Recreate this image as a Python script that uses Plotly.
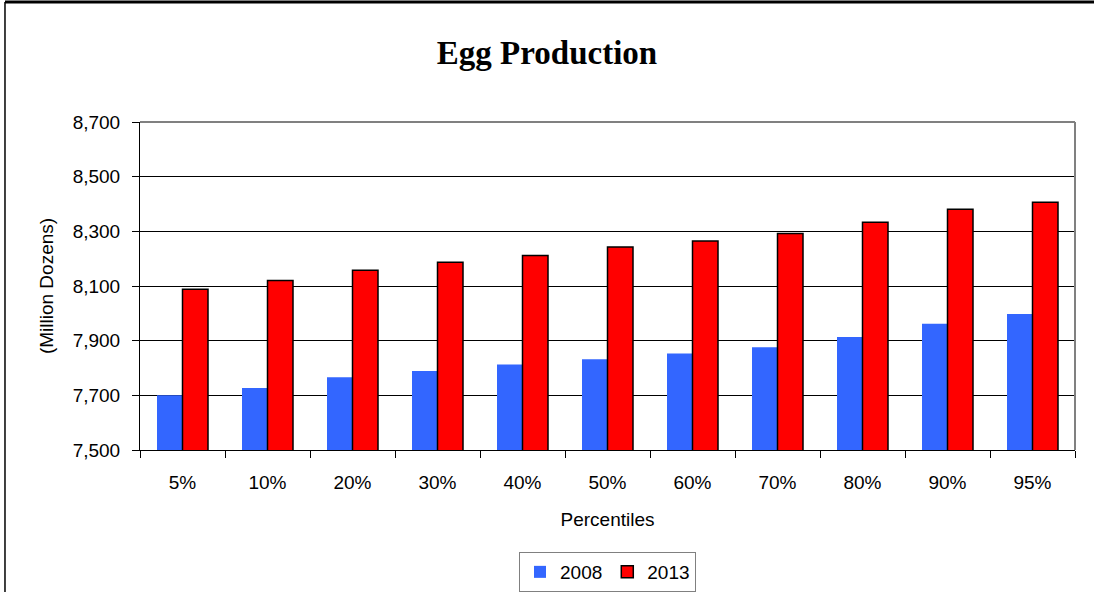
import plotly.graph_objects as go

categories = ["5%", "10%", "20%", "30%", "40%", "50%", "60%", "70%", "80%", "90%", "95%"]
values_2008 = [7700, 7727, 7766, 7789, 7813, 7832, 7853, 7876, 7913, 7962, 7998]
values_2013 = [8088, 8120, 8158, 8187, 8212, 8243, 8265, 8292, 8333, 8381, 8406]
y_ticks = [7500, 7700, 7900, 8100, 8300, 8500, 8700]

FONT = "Liberation Sans, Arial, sans-serif"
FS = 19

fig = go.Figure()
fig.add_trace(go.Bar(name="2008", x=categories, y=values_2008,
                     marker=dict(color="#3366FF", line=dict(width=0))))
fig.add_trace(go.Bar(name="2013", x=categories, y=values_2013,
                     marker=dict(color="#FF0000", line=dict(color="black", width=1.5))))

fig.update_layout(
    width=1094, height=592,
    margin=dict(l=140, r=19, t=122, b=142, autoexpand=False),
    paper_bgcolor="white", plot_bgcolor="white",
    barmode="group", bargap=0.4, bargroupgap=0,
    title=dict(text="<b>Egg Production</b>", x=0.5, xanchor="center",
               y=0.912, yanchor="middle", xref="container", yref="container",
               font=dict(family="Liberation Serif, Times New Roman, serif", size=33, color="black")),
    font=dict(family=FONT, size=FS, color="black"),
    showlegend=True,
    legend=dict(orientation="h", x=0.5, xanchor="center", y=-0.311, yanchor="top",
                bordercolor="#808080", borderwidth=1, font=dict(size=FS),
                traceorder="normal", itemwidth=30, tracegroupgap=0),
)
fig.update_xaxes(showline=True, linecolor="black", linewidth=1, ticks="outside", ticklen=7,
                 tickson="boundaries", tickcolor="black", showgrid=False,
                 ticklabelstandoff=15, automargin=False,
                 title=dict(text="Percentiles", standoff=20, font=dict(size=FS)))
fig.update_yaxes(range=[7500, 8700], tickvals=y_ticks, tickformat=",", showline=True,
                 linecolor="black", linewidth=1, ticks="outside", ticklen=7, tickcolor="black",
                 showgrid=True, gridcolor="black", gridwidth=1, zeroline=False,
                 ticklabelstandoff=8, automargin=False,
                 title=dict(text="(Million Dozens)", standoff=14, font=dict(size=FS)))

# plot area top and right borders (gray)
fig.add_shape(type="line", xref="paper", yref="paper", x0=0, x1=1, y0=1, y1=1,
              line=dict(color="#808080", width=2), layer="above")
fig.add_shape(type="line", xref="paper", yref="paper", x0=1, x1=1, y0=0, y1=1,
              line=dict(color="#808080", width=2), layer="above")
# outer chart border (top and left visible)
fig.add_shape(type="line", xref="paper", yref="paper", x0=-0.1444, x1=1.05, y0=1.366, y1=1.366,
              line=dict(color="black", width=3), layer="above")
fig.add_shape(type="line", xref="paper", yref="paper", x0=-0.1444, x1=-0.1444, y0=-0.5, y1=1.366,
              line=dict(color="black", width=1.5), layer="above")

fig.write_html("out.html", config={"displayModeBar": False},
               post_script="document.body.style.margin='0';document.documentElement.style.overflow='hidden';")
